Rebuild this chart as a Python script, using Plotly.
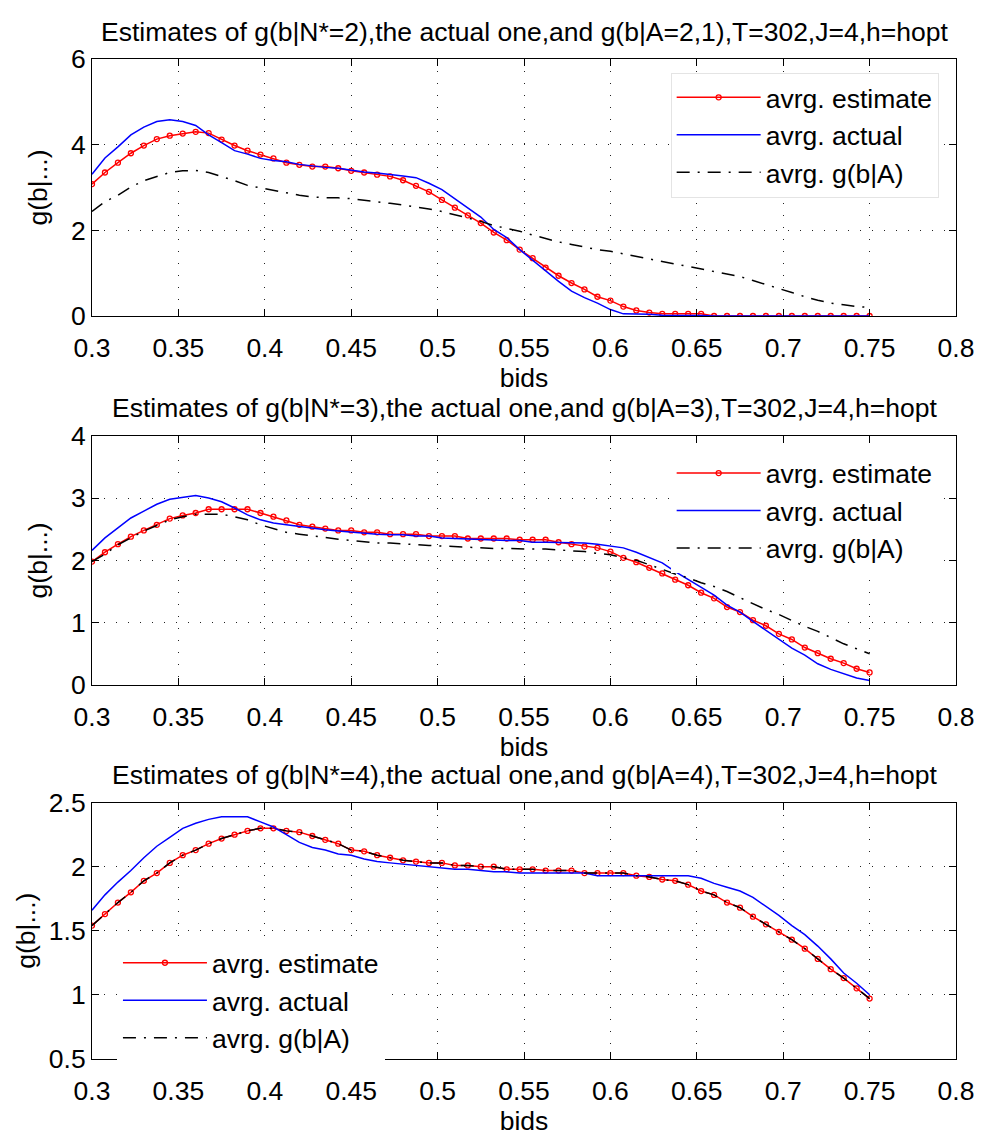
import plotly.graph_objects as go

FONT = "Liberation Sans, Arial, Helvetica, sans-serif"

# bid grid (61 evaluation points from 0.3 to 0.75)
bids = [round(0.3 + 0.0075 * i, 4) for i in range(61)]

# ---------- panel 1 : N*=2 ----------
est1 = [3.08, 3.35, 3.58, 3.80, 3.98, 4.13, 4.21, 4.26, 4.30, 4.27,
        4.12, 3.98, 3.86, 3.77, 3.68, 3.58, 3.53, 3.49, 3.49, 3.45,
        3.39, 3.35, 3.30, 3.26, 3.17, 3.04, 2.90, 2.71, 2.53, 2.35,
        2.17, 1.95, 1.77, 1.55, 1.35, 1.13, 0.94, 0.77, 0.62, 0.45,
        0.36, 0.22, 0.13, 0.08, 0.05, 0.05, 0.05, 0.05, 0.00, 0.00,
        0.00, 0.00, 0.00, 0.00, 0.00, 0.00, 0.00, 0.00, 0.00, 0.00, 0.00]
act1 = [3.31, 3.69, 3.95, 4.23, 4.41, 4.54, 4.58, 4.54, 4.45, 4.23,
        4.05, 3.86, 3.78, 3.68, 3.63, 3.60, 3.54, 3.50, 3.47, 3.45,
        3.40, 3.36, 3.34, 3.31, 3.27, 3.23, 3.10, 2.95, 2.74, 2.53,
        2.31, 2.02, 1.83, 1.55, 1.30, 1.05, 0.81, 0.58, 0.43, 0.30,
        0.15, 0.05, 0.05, 0.04, 0.02, 0.02, 0.01, 0.01, 0.00, 0.00,
        0.00, 0.00, 0.00, 0.00, 0.00, 0.00, 0.00, 0.00, 0.00, 0.00, 0.00]
ga1 = [2.44, 2.67, 2.82, 3.01, 3.16, 3.26, 3.35, 3.39, 3.40, 3.35,
       3.26, 3.16, 3.05, 2.99, 2.93, 2.87, 2.82, 2.78, 2.76, 2.76,
       2.74, 2.70, 2.67, 2.63, 2.59, 2.55, 2.50, 2.44, 2.36, 2.29,
       2.21, 2.11, 2.05, 1.98, 1.89, 1.81, 1.73, 1.67, 1.61, 1.55,
       1.51, 1.45, 1.39, 1.34, 1.28, 1.22, 1.16, 1.10, 1.04, 0.98,
       0.92, 0.83, 0.73, 0.64, 0.55, 0.45, 0.37, 0.30, 0.26, 0.22, 0.20]

# ---------- panel 2 : N*=3 ----------
est2 = [1.98, 2.13, 2.26, 2.38, 2.48, 2.57, 2.67, 2.72, 2.76, 2.82,
        2.82, 2.82, 2.82, 2.76, 2.70, 2.64, 2.57, 2.54, 2.51, 2.48,
        2.48, 2.45, 2.45, 2.42, 2.42, 2.42, 2.39, 2.39, 2.39, 2.35,
        2.35, 2.35, 2.35, 2.33, 2.33, 2.33, 2.29, 2.26, 2.22, 2.20,
        2.14, 2.04, 1.97, 1.88, 1.79, 1.69, 1.60, 1.48, 1.39, 1.25,
        1.17, 1.04, 0.95, 0.82, 0.73, 0.60, 0.51, 0.42, 0.35, 0.26, 0.20]
act2 = [2.16, 2.36, 2.52, 2.68, 2.79, 2.90, 2.98, 3.01, 3.04, 3.00,
        2.94, 2.84, 2.73, 2.65, 2.60, 2.57, 2.54, 2.52, 2.49, 2.47,
        2.45, 2.44, 2.42, 2.41, 2.41, 2.39, 2.39, 2.36, 2.35, 2.35,
        2.33, 2.32, 2.32, 2.32, 2.29, 2.29, 2.29, 2.29, 2.28, 2.26,
        2.23, 2.20, 2.13, 2.05, 1.96, 1.82, 1.69, 1.56, 1.44, 1.28,
        1.17, 1.02, 0.88, 0.73, 0.59, 0.48, 0.34, 0.25, 0.18, 0.11, 0.07]
ga2 = [1.98, 2.10, 2.25, 2.36, 2.47, 2.56, 2.65, 2.70, 2.74, 2.74,
       2.74, 2.70, 2.65, 2.57, 2.51, 2.45, 2.42, 2.39, 2.36, 2.34,
       2.32, 2.30, 2.28, 2.28, 2.26, 2.25, 2.24, 2.23, 2.22, 2.20,
       2.20, 2.19, 2.19, 2.18, 2.18, 2.18, 2.17, 2.15, 2.14, 2.11,
       2.09, 2.04, 2.00, 1.93, 1.85, 1.78, 1.72, 1.64, 1.58, 1.50,
       1.40, 1.30, 1.21, 1.13, 1.03, 0.94, 0.86, 0.76, 0.66, 0.58, 0.50]

# ---------- panel 3 : N*=4 ----------
est3 = [1.54, 1.63, 1.72, 1.80, 1.89, 1.95, 2.03, 2.09, 2.13, 2.18,
        2.22, 2.25, 2.28, 2.30, 2.30, 2.28, 2.27, 2.24, 2.21, 2.18,
        2.13, 2.12, 2.09, 2.07, 2.05, 2.04, 2.03, 2.03, 2.01, 2.01,
        2.00, 2.00, 1.98, 1.98, 1.98, 1.97, 1.97, 1.97, 1.95, 1.95,
        1.95, 1.95, 1.93, 1.92, 1.90, 1.89, 1.86, 1.81, 1.78, 1.72,
        1.68, 1.61, 1.55, 1.49, 1.43, 1.36, 1.28, 1.20, 1.13, 1.05, 0.97]
act3 = [1.66, 1.78, 1.88, 1.97, 2.07, 2.16, 2.23, 2.30, 2.34, 2.37,
        2.39, 2.39, 2.39, 2.35, 2.31, 2.25, 2.19, 2.15, 2.13, 2.10,
        2.09, 2.06, 2.04, 2.03, 2.02, 2.01, 2.00, 1.99, 1.98, 1.98,
        1.97, 1.96, 1.96, 1.95, 1.95, 1.95, 1.95, 1.95, 1.95, 1.93,
        1.93, 1.93, 1.93, 1.93, 1.93, 1.93, 1.93, 1.91, 1.87, 1.84,
        1.81, 1.76, 1.69, 1.62, 1.54, 1.47, 1.38, 1.28, 1.17, 1.09, 1.00]
ga3 = [1.54, 1.63, 1.72, 1.80, 1.89, 1.95, 2.03, 2.09, 2.13, 2.18,
       2.22, 2.25, 2.28, 2.30, 2.30, 2.28, 2.27, 2.24, 2.21, 2.18,
       2.13, 2.12, 2.09, 2.07, 2.05, 2.04, 2.03, 2.03, 2.01, 2.01,
       2.00, 2.00, 1.98, 1.98, 1.98, 1.97, 1.97, 1.97, 1.95, 1.95,
       1.95, 1.95, 1.93, 1.92, 1.90, 1.89, 1.86, 1.81, 1.78, 1.72,
       1.68, 1.61, 1.55, 1.49, 1.43, 1.36, 1.28, 1.20, 1.13, 1.05, 0.97]

titles = [
    "Estimates of g(b|N*=2),the actual one,and g(b|A=2,1),T=302,J=4,h=hopt",
    "Estimates of g(b|N*=3),the actual one,and g(b|A=3),T=302,J=4,h=hopt",
    "Estimates of g(b|N*=4),the actual one,and g(b|A=4),T=302,J=4,h=hopt",
]
series_names = ["avrg. estimate", "avrg. actual", "avrg. g(b|A)"]
x_tick_vals = [0.3, 0.35, 0.4, 0.45, 0.5, 0.55, 0.6, 0.65, 0.7, 0.75, 0.8]
x_tick_text = ["0.3", "0.35", "0.4", "0.45", "0.5", "0.55", "0.6", "0.65", "0.7", "0.75", "0.8"]
y_ranges = [[0, 6], [0, 4], [0.5, 2.5]]
y_dticks = [2, 1, 0.5]

FS = 26.5
# the page body has an 8px margin: the figure starts at (8, 8) in the window,
# so it is sized to fit the window exactly without overflowing
OFF = 8
W, H = 982 - 2 * OFF, 1145 - 2 * OFF
# window-pixel layout of the three axes boxes (top, bottom)
boxes = [(45, 309), (432, 688), (809, 1072)]
title_y = [17, 404, 781]
legend_pos = [(672, 59, "#e4e4e4"), (672, 445, "white"), (117, 948, "white")]
ytitle_standoff = [15, 15, 5]

PL, PR = 92 - OFF, 958 - OFF


def py(p):
    return 1 - (p - OFF) / H


def px(p):
    return (p - OFF - PL) / (PR - PL)


fig = go.Figure()
panels = [(est1, act1, ga1), (est2, act2, ga2), (est3, act3, ga3)]
for k, (est, act, ga) in enumerate(panels):
    sfx = "" if k == 0 else str(k + 1)
    xa, ya, leg = "x" + sfx, "y" + sfx, "legend" + sfx
    fig.add_trace(go.Scatter(
        x=bids, y=est, mode="lines+markers", name=series_names[0],
        line=dict(color="#ff0000", width=1.5),
        marker=dict(symbol="circle-open", size=5, color="#ff0000", line=dict(width=1.3, color="#ff0000")),
        xaxis=xa, yaxis=ya, legend=leg))
    fig.add_trace(go.Scatter(
        x=bids, y=act, mode="lines", name=series_names[1],
        line=dict(color="#0000ff", width=1.5),
        xaxis=xa, yaxis=ya, legend=leg))
    fig.add_trace(go.Scatter(
        x=bids, y=ga, mode="lines", name=series_names[2],
        line=dict(color="black", width=1.5, dash="13px,8px,2px,8px"),
        xaxis=xa, yaxis=ya, legend=leg))

axis_common = dict(
    showline=True, linecolor="black", linewidth=1, mirror="ticks",
    ticks="inside", ticklen=7, tickcolor="black", tickwidth=1,
    showgrid=True, gridcolor="#222222", gridwidth=1, griddash="1px,11px",
    zeroline=False, tickfont=dict(size=FS, color="black", family=FONT),
    ticklabeloverflow="allow",
)

layout = dict(
    width=W, height=H,
    margin=dict(l=PL, r=W - PR, t=0, b=0),
    plot_bgcolor="white", paper_bgcolor="white",
    font=dict(family=FONT, size=FS, color="black"),
    showlegend=True,
    annotations=[],
)

for k in range(3):
    sfx = "" if k == 0 else str(k + 1)
    top, bot = boxes[k]
    layout["xaxis" + sfx] = dict(
        axis_common, domain=[0, 1], anchor="y" + sfx, range=[0.3, 0.8],
        tickvals=x_tick_vals, ticktext=x_tick_text, ticklabelstandoff=8,
        title=dict(text="bids", font=dict(size=FS), standoff=0),
    )
    layout["yaxis" + sfx] = dict(
        axis_common, domain=[py(bot), py(top)], anchor="x" + sfx,
        range=y_ranges[k], dtick=y_dticks[k], tick0=0,
        title=dict(text="g(b|...)", font=dict(size=FS), standoff=ytitle_standoff[k]),
    )
    lx, ly, bc = legend_pos[k]
    layout["legend" + sfx] = dict(
        x=px(lx), y=py(ly), xref="paper", yref="paper",
        xanchor="left", yanchor="top",
        bgcolor="white", bordercolor=bc, borderwidth=1,
        font=dict(size=FS, family=FONT, color="black"),
        itemwidth=84, tracegroupgap=0,
    )
    layout["annotations"].append(dict(
        text=titles[k], x=0.5, xref="paper", y=py(title_y[k]), yref="paper",
        xanchor="center", yanchor="middle", showarrow=False,
        font=dict(size=FS, family=FONT, color="black"),
    ))

fig.update_layout(**layout)
fig.write_html("out.html")
